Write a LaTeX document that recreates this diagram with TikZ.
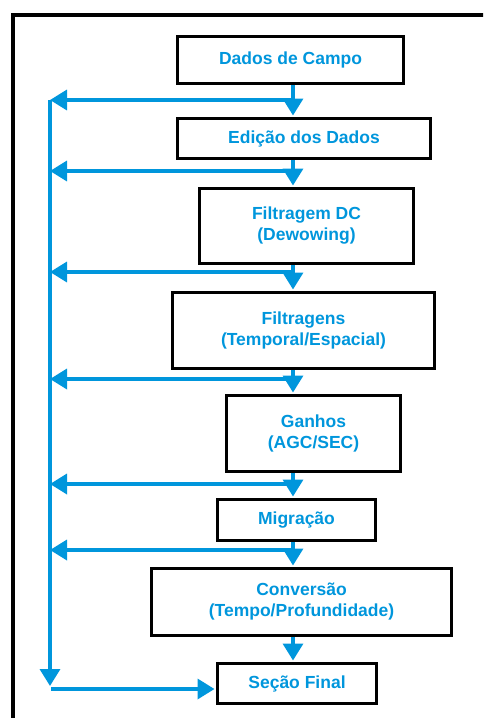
\documentclass[tikz,border=0pt]{standalone}
\usepackage{fontspec}
\setmainfont{Liberation Sans}
\usetikzlibrary{arrows.meta}

\definecolor{fluxo}{RGB}{0,150,220}

\tikzset{
  etapa/.style={draw=black, line width=3pt, rectangle, align=center, text=fluxo,
    font=\bfseries\fontsize{17.5}{21}\selectfont, inner sep=0pt},
  seta/.style={draw=fluxo, line width=3.5pt, -{Triangle[width=20pt,length=17pt]}},
  entra/.style={seta, shorten >=1.5pt},
}

\begin{document}
\begin{tikzpicture}[x=1pt,y=1pt,yscale=-1]
\clip (0,0) rectangle (483,718);

%Frame
\draw [line width=3.5pt] (13,730) -- (13,15) -- (500,15);

% Text Node
\node [etapa, minimum width=226pt, minimum height=47pt] (campo) at (290.5,60) {Dados de Campo};
% Text Node
\node [etapa, minimum width=253pt, minimum height=40pt] (edicao) at (304,138.5) {Edição dos Dados};
% Text Node
\node [etapa, minimum width=214pt, minimum height=75pt] (dewow) at (306.5,226) {Filtragem DC\\(Dewowing)};
% Text Node
\node [etapa, minimum width=262pt, minimum height=76pt] (filtros) at (303.5,330.5) {Filtragens\\(Temporal/Espacial)};
% Text Node
\node [etapa, minimum width=174pt, minimum height=76pt] (ganhos) at (313.5,433.5) {Ganhos\\(AGC/SEC)};
% Text Node
\node [etapa, minimum width=158pt, minimum height=41pt] (migracao) at (296.5,520) {Migração};
% Text Node
\node [etapa, minimum width=300pt, minimum height=67pt] (conversao) at (301.5,602) {Conversão\\(Tempo/Profundidade)};
% Text Node
\node [etapa, minimum width=159pt, minimum height=40pt] (secao) at (297,683.5) {Seção Final};

\coordinate (eixo) at (293,0);
\coordinate (barra) at (50,0);
\coordinate (j1) at (293,100);
\coordinate (j2) at (293,171);
\coordinate (j3) at (293,272);
\coordinate (j4) at (293,379);
\coordinate (j5) at (293,484);
\coordinate (j6) at (293,550);
\coordinate (fundo) at (50,686);
\coordinate (saida) at (51,689);

%Straight Lines
\draw [entra] (campo.south -| eixo) -- (edicao.north -| eixo);
\draw [entra] (edicao.south -| eixo) -- (dewow.north -| eixo);
\draw [entra] (dewow.south -| eixo) -- (filtros.north -| eixo);
\draw [entra] (filtros.south -| eixo) -- (ganhos.north -| eixo);
\draw [entra] (ganhos.south -| eixo) -- (migracao.north -| eixo);
\draw [entra] (migracao.south -| eixo) -- (conversao.north -| eixo);
\draw [entra] (conversao.south -| eixo) -- (secao.north -| eixo);

%Straight Lines
\foreach \j in {j1,j2,j3,j4,j5,j6}
  \draw [seta] (\j) -- (\j -| barra);

%Straight Lines
\draw [seta] (j1 -| barra) -- (fundo);
\draw [entra] (saida) -- (saida -| secao.west);

\end{tikzpicture}
\end{document}
